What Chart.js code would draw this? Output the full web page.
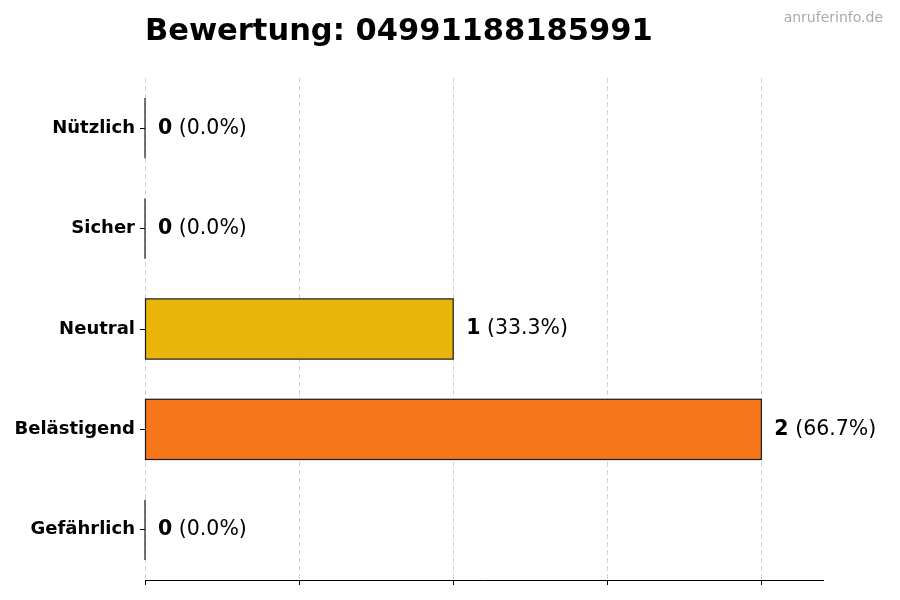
<!DOCTYPE html>
<html>
<head>
<meta charset="utf-8">
<script src="https://cdn.jsdelivr.net/npm/chart.js@4/dist/chart.umd.min.js"></script>
<style>
  html, body { margin: 0; padding: 0; background: #fff; }
  #wrap { width: 900px; height: 600px; }
</style>
</head>
<body>
<div id="wrap"><canvas id="ratingChart" width="900" height="600"></canvas></div>
<script>
// Chart data
const categories = ['Nützlich', 'Sicher', 'Neutral', 'Belästigend', 'Gefährlich'];
const counts = [0, 0, 1, 2, 0];
const barColors = ['#22a34a', '#3b82f6', '#e9b50b', '#f7761a', '#dc2626'];
const xTicks = [0, 0.5, 1, 1.5, 2];
const xMax = 2.2;
const titleText = 'Bewertung: 04991188185991';
const watermarkText = 'anruferinfo.de';

const FONT = '"DejaVu Sans", sans-serif';
const total = counts.reduce((s, v) => s + v, 0);

// bar outlines (also for zero-width bars), value labels, title, watermark
const overlayPlugin = {
  id: 'overlay',
  afterDatasetsDraw(chart) {
    const ctx = chart.ctx;
    const meta = chart.getDatasetMeta(0);
    ctx.save();
    meta.data.forEach((bar, i) => {
      const p = bar.getProps(['x', 'y', 'base', 'height'], true);
      ctx.strokeStyle = '#1a1a1a';
      ctx.lineWidth = 1.2;
      ctx.strokeRect(p.base, p.y - p.height / 2, p.x - p.base, p.height);

      const pct = total ? (counts[i] / total * 100).toFixed(1) : '0.0';
      const tx = p.x + 13;
      ctx.textBaseline = 'middle';
      ctx.textAlign = 'left';
      ctx.fillStyle = '#000';
      ctx.font = 'bold 20.5px ' + FONT;
      const bold = String(counts[i]);
      ctx.fillText(bold, tx, p.y);
      const w = ctx.measureText(bold).width;
      ctx.font = '20.5px ' + FONT;
      ctx.fillText(' (' + pct + '%)', tx + w, p.y);
    });
    ctx.restore();
  },
  afterDraw(chart) {
    const ctx = chart.ctx;
    ctx.save();
    ctx.textBaseline = 'alphabetic';
    ctx.textAlign = 'left';
    ctx.fillStyle = '#000';
    ctx.font = 'bold 30.5px ' + FONT;
    ctx.fillText(titleText, chart.chartArea.left, 40);
    ctx.textAlign = 'right';
    ctx.fillStyle = '#aaa';
    ctx.font = '14px ' + FONT;
    ctx.fillText(watermarkText, 883, 22);
    ctx.restore();
  }
};

new Chart(document.getElementById('ratingChart').getContext('2d'), {
  type: 'bar',
  data: {
    labels: categories,
    datasets: [{
      data: counts,
      backgroundColor: barColors,
      borderWidth: 0,
      barPercentage: 0.6,
      categoryPercentage: 1.0
    }]
  },
  options: {
    indexAxis: 'y',
    responsive: false,
    animation: false,
    layout: {
      padding: { top: 78, right: 77, left: 0, bottom: 0 }
    },
    plugins: {
      legend: { display: false },
      tooltip: { enabled: false }
    },
    scales: {
      x: {
        min: 0,
        max: xMax,
        z: 1,
        afterBuildTicks: (scale) => {
          scale.ticks = xTicks.map(v => ({ value: v }));
        },
        afterFit: (scale) => { scale.height = 20; },
        ticks: { display: false },
        grid: {
          color: 'rgba(180,180,180,0.6)',
          lineWidth: 1,
          drawTicks: true,
          tickLength: 5,
          tickColor: '#000',
          tickBorderDash: [],
          tickWidth: 1
        },
        border: { display: true, color: '#000', width: 1, dash: [5, 3] }
      },
      y: {
        afterFit: (scale) => { scale.width = 145; },
        ticks: {
          color: '#000',
          padding: 5,
          font: { family: FONT, size: 18, weight: 'bold' }
        },
        grid: {
          offset: false,
          drawOnChartArea: false,
          drawTicks: true,
          tickLength: 5,
          tickColor: '#000',
          tickWidth: 1
        },
        border: { display: false }
      }
    }
  },
  plugins: [overlayPlugin]
});
</script>
</body>
</html>
